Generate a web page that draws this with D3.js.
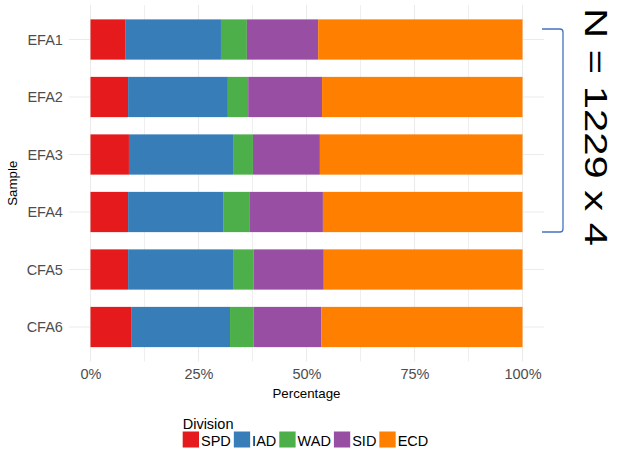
<!DOCTYPE html>
<html><head><meta charset="utf-8">
<script src="https://cdn.jsdelivr.net/npm/d3@7"></script>
<style>body{margin:0;background:#fff}svg{display:block}</style>
</head><body>
<script>
const samples = ["EFA1","EFA2","EFA3","EFA4","CFA5","CFA6"];
const divisions = ["SPD","IAD","WAD","SID","ECD"];
const colors = ["#E41A1C","#377EB8","#4DAF4A","#984EA3","#FF7F00"];
const SPD = [8.15, 8.7, 8.9, 8.7, 8.7, 9.4];
const IAD = [22.05, 23.1, 24.1, 22.0, 24.3, 22.9];
const WAD = [6.0, 4.7, 4.6, 6.2, 4.8, 5.5];
const SID = [16.5, 17.1, 15.5, 16.9, 16.2, 15.6];
const ECD = [47.3, 46.4, 46.9, 46.2, 46.0, 46.6];
const xTicks = [0, 0.25, 0.5, 0.75, 1];
const xMinor = [0.125, 0.375, 0.625, 0.875];
const annotation = "N = 1229 x 4";

const W = 621, H = 452;
const font = "'Liberation Sans', Arial, sans-serif";
const svg = d3.select("body").append("svg").attr("width", W).attr("height", H);

const table = samples.map((s, i) => {
  const row = {sample: s};
  const vals = [SPD[i], IAD[i], WAD[i], SID[i], ECD[i]];
  const tot = d3.sum(vals);
  divisions.forEach((d, j) => row[d] = vals[j] / tot);
  return row;
});
const stacked = d3.stack().keys(divisions)(table);

const panel = {left: 68.9, right: 544.1, top: 5, bottom: 361.5};
const x = d3.scaleLinear().domain([0, 1]).range([90.5, 522.5]);
const y = d3.scalePoint().domain(samples).range([panel.top, panel.bottom]).padding(0.6);
const bh = y.step() * 0.7;
const color = d3.scaleOrdinal().domain(divisions).range(colors);

// grid
const g = svg.append("g");
g.selectAll(".minor").data(xMinor).join("line")
  .attr("x1", d => x(d)).attr("x2", d => x(d))
  .attr("y1", panel.top).attr("y2", panel.bottom)
  .attr("stroke", "#ebebeb").attr("stroke-width", 0.8);
g.selectAll(".major").data(xTicks).join("line")
  .attr("x1", d => x(d)).attr("x2", d => x(d))
  .attr("y1", panel.top).attr("y2", panel.bottom)
  .attr("stroke", "#ebebeb").attr("stroke-width", 1.1);
g.selectAll(".hmajor").data(samples).join("line")
  .attr("x1", panel.left).attr("x2", panel.right)
  .attr("y1", d => y(d)).attr("y2", d => y(d))
  .attr("stroke", "#ebebeb").attr("stroke-width", 1.1);

// bars
svg.append("g").selectAll("g").data(stacked).join("g")
  .attr("fill", d => color(d.key))
  .selectAll("rect").data(d => d).join("rect")
  .attr("x", d => x(d[0]))
  .attr("width", d => x(d[1]) - x(d[0]))
  .attr("y", d => y(d.data.sample) - bh / 2)
  .attr("height", bh);

// axes
const xAxis = svg.append("g").attr("transform", `translate(0,${panel.bottom})`)
  .call(d3.axisBottom(x).tickValues(xTicks).tickFormat(d3.format(".0%")).tickSize(0).tickPadding(7));
const yAxis = svg.append("g").attr("transform", `translate(${panel.left},0)`)
  .call(d3.axisLeft(y).tickSize(0).tickPadding(6));
[xAxis, yAxis].forEach(a => {
  a.select(".domain").remove();
  a.selectAll("text").attr("font-family", font).attr("font-size", 14.5).attr("fill", "#4d4d4d");
});
xAxis.selectAll("text").attr("dy", "0.71em");

svg.append("text").attr("x", x(0.5)).attr("y", 398).attr("text-anchor", "middle")
  .attr("font-family", font).attr("font-size", 13.3).attr("fill", "#000").text("Percentage");
svg.append("text").attr("transform", `translate(17,${(panel.top + panel.bottom) / 2}) rotate(-90)`)
  .attr("text-anchor", "middle").attr("font-family", font).attr("font-size", 13.3).attr("fill", "#000").text("Sample");

// legend
const lg = svg.append("g").attr("transform", "translate(182.7,0)");
lg.append("text").attr("x", 0).attr("y", 428.5).attr("font-family", font).attr("font-size", 14.5).attr("fill", "#000").text("Division");
let lx = 0;
divisions.forEach(d => {
  lg.append("rect").attr("x", lx).attr("y", 431.5).attr("width", 16.3).attr("height", 16).attr("fill", color(d));
  const t = lg.append("text").attr("x", lx + 18.3).attr("y", 445.5).attr("font-family", font).attr("font-size", 14.5).attr("fill", "#000").text(d);
  lx += 18.3 + t.node().getComputedTextLength() + 3;
});

// bracket + annotation
const bTop = 29, bBot = 232, bL = 542, bR = 563, r = 3;
svg.append("path")
  .attr("d", `M${bL},${bTop} H${bR - r} Q${bR},${bTop} ${bR},${bTop + r} V${bBot - r} Q${bR},${bBot} ${bR - r},${bBot} H${bL}`)
  .attr("fill", "none").attr("stroke", "#4472C4").attr("stroke-width", 1.3);
svg.append("text").attr("transform", "translate(585,8) rotate(90) scale(1.37,1)")
  .attr("font-family", font).attr("font-size", 30.5).attr("fill", "#000").text(annotation);
</script>
</body></html>
